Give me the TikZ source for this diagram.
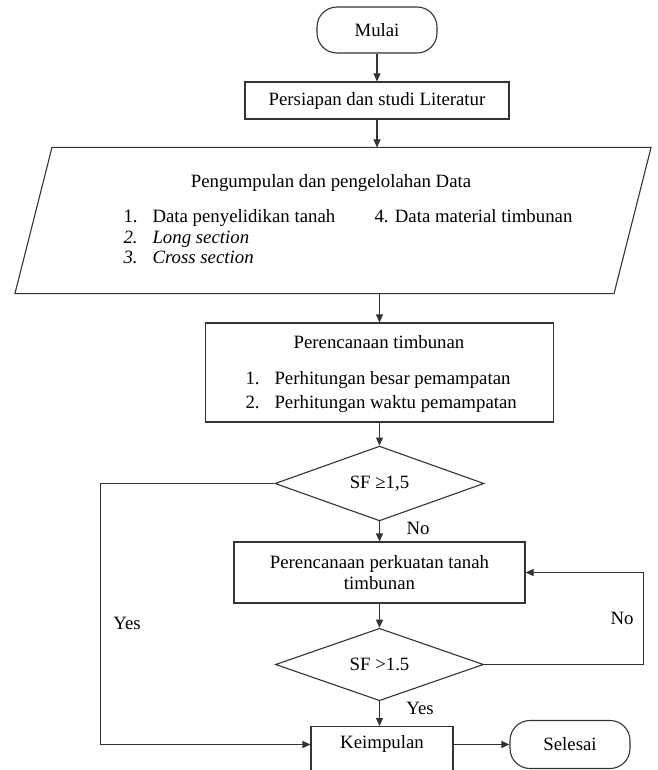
\documentclass[tikz,border=0pt]{standalone}
\usepackage{fontspec}
\setmainfont{Liberation Serif}
\usetikzlibrary{arrows.meta,shapes.geometric,calc}

\newcommand{\itm}[2]{\makebox[29pt][l]{#1}#2}

\begin{document}
\begin{tikzpicture}[
  x=1pt, y=-1pt,
  font=\fontsize{18.8}{21.5}\selectfont,
  line width=1.1pt,
  box/.style={draw=black!80, rectangle, inner sep=0pt, align=center},
  term/.style={draw=black!80, rectangle, rounded corners=20pt, inner sep=0pt},
  dec/.style={draw=black!80, diamond, inner sep=0pt},
  ar/.style={draw=black!80, -{Triangle[length=8pt, width=7pt]}},
  txt/.style={inner sep=0pt, anchor=base west}
]
\useasboundingbox (0,0) rectangle (657,770);

\node[term, minimum width=120, minimum height=46] (mulai) at (377,30) {Mulai};
\node[box, minimum width=264, minimum height=37] (persiapan) at (377,100.5)
  {Persiapan dan studi Literatur};

% data input
\node[minimum width=598, minimum height=145, inner sep=0pt] (data) at (333,220.5) {};
\draw[draw=black!80] ($(data.north west)+(18.5,0)$) -- ($(data.north east)+(18.5,0)$)
  -- ($(data.south east)+(-18.5,0)$) -- ($(data.south west)+(-18.5,0)$) -- cycle;
\node[inner sep=0pt, anchor=base] (datajudul) at (331,187) {Pengumpulan dan pengelolahan Data};
\node[txt] (data1) at (123,222) {\itm{1.}{Data penyelidikan tanah}};
\node[txt] (data2) at (123,243) {\itshape\itm{2.}{Long section}};
\node[txt] (data3) at (123,263) {\itshape\itm{3.}{Cross section}};
\node[txt] (data4) at (374,222) {4. Data material timbunan};

% perencanaan
\node[box, minimum width=348, minimum height=99] (rencana) at (379.5,372.5) {};
\node[inner sep=0pt, anchor=base] (rencanajudul) at (379,348) {Perencanaan timbunan};
\node[txt] (rencana1) at (245,384) {\itm{1.}{Perhitungan besar pemampatan}};
\node[txt] (rencana2) at (245,408) {\itm{2.}{Perhitungan waktu pemampatan}};

\node[dec, minimum width=209, minimum height=65] (sfa) at (379.5,483.5) {SF ≥1,5};
\node[box, minimum width=291, minimum height=61] (perkuatan) at (379.5,572.5)
  {Perencanaan perkuatan tanah\\timbunan};
\node[dec, minimum width=208, minimum height=63] (sfb) at (379.5,664.5) {SF >1.5};
\node[box, anchor=north, minimum width=142, text height=22, text depth=34]
  (simpul) at (382,726) {Keimpulan};
\node[term, minimum width=120, minimum height=48] (selesai) at (570,744.5) {Selesai};

\draw[ar] (mulai) -- (persiapan);
\draw[ar] (persiapan.south) -- (persiapan.south |- data.north);
\draw[ar] (rencana.north |- data.south) -- (rencana.north);
\draw[ar] (rencana) -- (sfa);
\draw[ar] (sfa) -- (perkuatan);
\draw[ar] (perkuatan) -- (sfb);
\draw[ar] (sfb.south) -- (sfb.south |- simpul.north);
\draw[ar] (sfa.west) -- ++(-174,0) |- (simpul.west |- selesai.west);
\draw[ar] (sfb.east) -- ++(159,0) |- (perkuatan.east);
\draw[ar] (simpul.east |- selesai.west) -- (selesai.west);

\node (no1) at (418,528) {No};
\node (yes1) at (127,623) {Yes};
\node (no2) at (622,618) {No};
\node (yes2) at (420,708) {Yes};
\end{tikzpicture}
\end{document}
